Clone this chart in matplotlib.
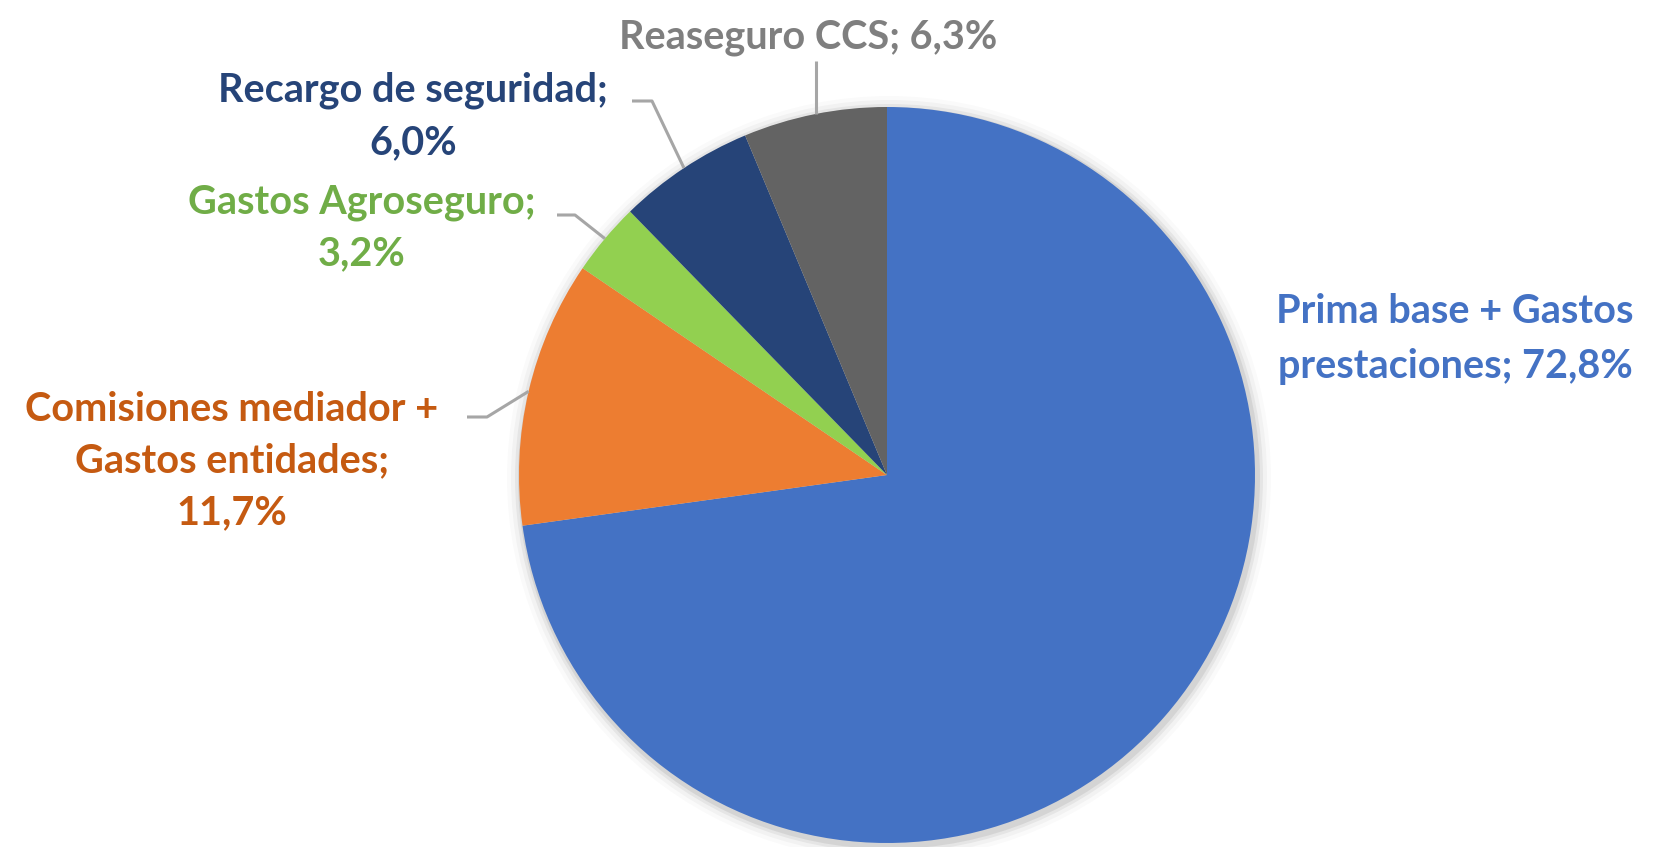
import numpy as np
import matplotlib
matplotlib.use("Agg")
import matplotlib.pyplot as plt
from matplotlib.patches import Circle

# ---- data ----
categories = ["Prima base + Gastos\nprestaciones", "Comisiones mediador +\nGastos entidades",
              "Gastos Agroseguro", "Recargo de seguridad", "Reaseguro CCS"]
values = [72.8, 11.7, 3.2, 6.0, 6.3]
value_labels = ["72,8%", "11,7%", "3,2%", "6,0%", "6,3%"]
label_texts = ["Prima base + Gastos\nprestaciones; 72,8%",
               "Comisiones mediador +\nGastos entidades;\n11,7%",
               "Gastos Agroseguro;\n3,2%",
               "Recargo de seguridad;\n6,0%",
               "Reaseguro CCS; 6,3%"]
wedge_colors = ["#4472C4", "#ED7D31", "#92D050", "#264478", "#636363"]
label_colors = ["#4472C4", "#C55A11", "#70AD47", "#264478", "#7F7F7F"]

W, H = 1655, 847
fig = plt.figure(figsize=(W / 100, H / 100), dpi=100)
ax = fig.add_axes([0, 0, 1, 1])

def Y(y):
    return H - y

cx, cy, r = 887, 475, 368

# soft shadow
for rr, a in [(r + 14, 0.02), (r + 10, 0.03), (r + 6, 0.05), (r + 3, 0.07)]:
    ax.add_patch(Circle((cx + 2, Y(cy + 3)), rr, color="black", alpha=a, lw=0, zorder=1))

wedges, _ = ax.pie(values, colors=wedge_colors, startangle=90, counterclock=False,
                   center=(cx, Y(cy)), radius=r, frame=True,
                   wedgeprops=dict(linewidth=0, zorder=2))
ax.set_xlim(0, W)
ax.set_ylim(0, H)
ax.set_aspect("equal")
ax.axis("off")

font = dict(family="Lato", weight="bold", fontsize=28.5)

# label positions (text center) and leader elbows (image px)
text_pos = [(1455, 339), (232, 461), (362, 228), (413, 116), (808, 37)]
spacing = [1.6, 1.5, 1.5, 1.5, 1.5]
elbows = [None, ((467, 417), (487, 417)), ((557, 215), (575, 215)),
          ((632, 101), (652, 101)), ((816, 61),)]

for i, w in enumerate(wedges):
    tx, ty = text_pos[i]
    ax.text(tx, Y(ty), label_texts[i], color=label_colors[i], ha="center", va="center",
            linespacing=spacing[i], zorder=5, **font)
    if elbows[i] is None:
        continue
    mid = np.deg2rad((w.theta1 + w.theta2) / 2)
    ex, ey = cx + r * np.cos(mid), Y(cy) + r * np.sin(mid)
    pts = [(px, Y(py)) for px, py in elbows[i]]
    if len(pts) == 1:
        xs = [pts[0][0], pts[0][0]]
        ys = [pts[0][1], ey]
    else:
        xs = [p[0] for p in pts] + [ex]
        ys = [p[1] for p in pts] + [ey]
    ax.plot(xs, ys, color="#A6A6A6", lw=2.2, zorder=3, solid_capstyle="butt")

fig.savefig("out.png", dpi=100, facecolor="white")
